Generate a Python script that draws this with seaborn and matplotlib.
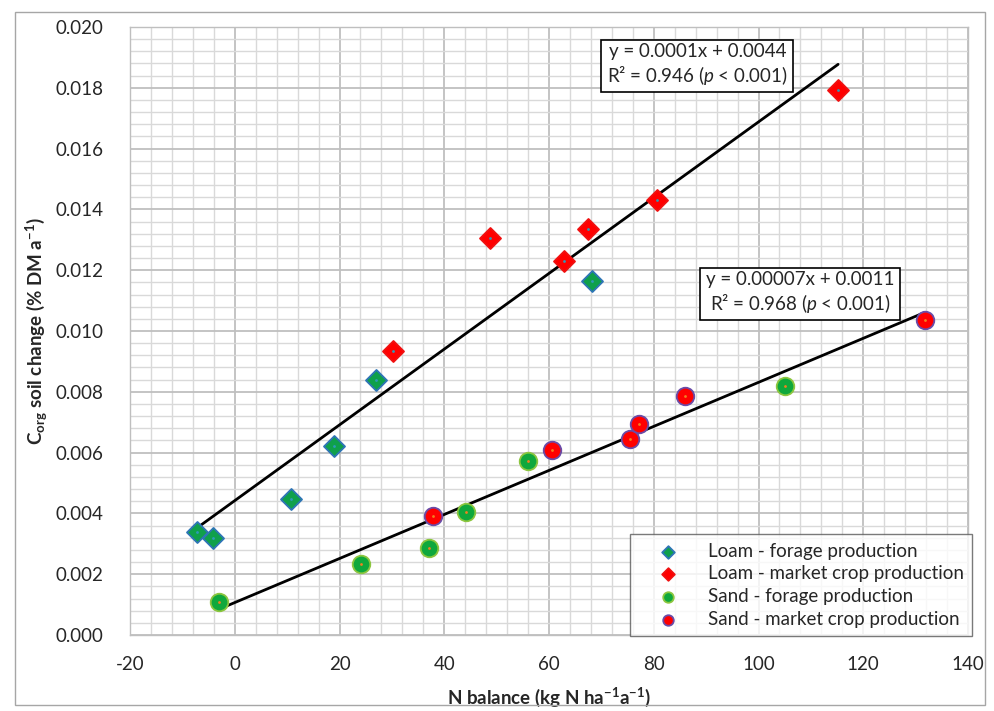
import numpy as np
import pandas as pd
import matplotlib
matplotlib.use("Agg")
import matplotlib.pyplot as plt
from matplotlib.ticker import MultipleLocator, FormatStrFormatter
from matplotlib.patches import Rectangle
import seaborn as sns

# N balance (kg N ha-1 a-1) and Corg soil change (% DM a-1) per farm group
loam_forage_x = [-7.2, -4.2, 10.8, 18.9, 26.9, 68.2]
loam_forage_y = [0.00340, 0.00320, 0.00448, 0.00622, 0.00839, 0.01166]

loam_market_x = [30.3, 48.8, 62.9, 67.5, 80.6, 115.2]
loam_market_y = [0.00933, 0.01307, 0.01230, 0.01337, 0.01432, 0.01792]

sand_forage_x = [-3.1, 24.1, 37.0, 44.1, 56.0, 105.1]
sand_forage_y = [0.00108, 0.00233, 0.00285, 0.00404, 0.00573, 0.00819]

sand_market_x = [37.8, 60.6, 75.4, 77.2, 86.0, 131.8]
sand_market_y = [0.00392, 0.00607, 0.00645, 0.00694, 0.00787, 0.01036]

series_labels = ["Loam - forage production", "Loam - market crop production",
                 "Sand - forage production", "Sand - market crop production"]

eq_loam = "y = 0.0001x + 0.0044\nR² = 0.946 ($\\mathit{p}$ < 0.001)"
eq_sand = "y = 0.00007x + 0.0011\nR² = 0.968 ($\\mathit{p}$ < 0.001)"

sns.set_style("white")
plt.rcParams["font.family"] = ["Lato", "DejaVu Sans"]
plt.rcParams["axes.unicode_minus"] = False
plt.rcParams["mathtext.fontset"] = "custom"
plt.rcParams["mathtext.rm"] = "Lato"
plt.rcParams["mathtext.it"] = "Lato:italic"
plt.rcParams["mathtext.bf"] = "Lato:bold"

FS = 13.5

fig = plt.figure(figsize=(9.95, 7.11), dpi=100)
ax = fig.add_axes([130 / 995, 76 / 711, 838 / 995, 608 / 711])

# outer chart frame
fig.patches.append(Rectangle((15 / 995, 6 / 711), 970 / 995, 693 / 711,
                             transform=fig.transFigure, fill=False,
                             edgecolor="#A6A6A6", linewidth=1.0, zorder=0))

ax.set_xlim(-20, 140)
ax.set_ylim(0, 0.020)
ax.xaxis.set_major_locator(MultipleLocator(20))
ax.xaxis.set_minor_locator(MultipleLocator(4))
ax.yaxis.set_major_locator(MultipleLocator(0.002))
ax.yaxis.set_minor_locator(MultipleLocator(0.0004))
ax.yaxis.set_major_formatter(FormatStrFormatter("%.3f"))
ax.grid(which="major", color="#BFBFBF", linewidth=1.3, zorder=0)
ax.grid(which="minor", color="#D9D9D9", linewidth=1.0, zorder=0)
ax.set_axisbelow(True)
for s in ax.spines.values():
    s.set_color("#BFBFBF")
    s.set_linewidth(1.0)
ax.tick_params(which="major", direction="out", length=4, color="#BFBFBF",
               labelsize=FS, pad=11)
ax.tick_params(axis="y", pad=15)
ax.tick_params(which="minor", length=0)

frames = {
    "lf": pd.DataFrame({"x": loam_forage_x, "y": loam_forage_y}),
    "lm": pd.DataFrame({"x": loam_market_x, "y": loam_market_y}),
    "sf": pd.DataFrame({"x": sand_forage_x, "y": sand_forage_y}),
    "sm": pd.DataFrame({"x": sand_market_x, "y": sand_market_y}),
}
loam = pd.concat([frames["lf"], frames["lm"]])
sand = pd.concat([frames["sf"], frames["sm"]])

# linear trend lines over each soil's data range
for d in (loam, sand):
    sns.regplot(data=d, x="x", y="y", ax=ax, scatter=False, ci=None,
                truncate=True, color="black", line_kws={"linewidth": 2.0, "zorder": 3})

styles = [
    ("lf", "D", "#0FA04B", "#2E75B6", "#2E9AB8"),
    ("lm", "D", "#FF0000", "#F01010", "#2E9AB8"),
    ("sf", "o", "#0FA83C", "#8CC63F", "#F08020"),
    ("sm", "o", "#FF0000", "#6A4CA8", "#F08020"),
]
for (key, mk, fc, ec, dot), lab in zip(styles, series_labels):
    size = 115 if mk == "D" else 160
    sns.scatterplot(data=frames[key], x="x", y="y", ax=ax, marker=mk, s=size,
                    color=fc, edgecolor=ec, linewidth=1.3, label=lab, zorder=4)
    sns.scatterplot(data=frames[key], x="x", y="y", ax=ax, marker="o", s=4,
                    color=dot, linewidth=0, zorder=5, legend=False)

ax.set_xlabel("N balance (kg N ha$^{\\mathbf{-1}}$a$^{\\mathbf{-1}}$)",
              fontsize=13.5, fontweight="bold", labelpad=9)
ax.set_ylabel("C$_{\\mathbf{org}}$ soil change (% DM a$^{\\mathbf{-1}}$)",
              fontsize=13.5, fontweight="bold", labelpad=4)

box = dict(boxstyle="square,pad=0.3", facecolor="white", edgecolor="black", linewidth=1.2)
ax.text(0.677, 0.9375, eq_loam, transform=ax.transAxes, ha="center", va="center",
        fontsize=FS, linespacing=1.2, bbox=box, zorder=6)
ax.text(0.7995, 0.5625, eq_sand, transform=ax.transAxes, ha="center", va="center",
        fontsize=FS, linespacing=1.2, bbox=box, zorder=6)

leg = ax.legend(loc="lower right", bbox_to_anchor=(972 / 995, 75 / 711),
                bbox_transform=fig.transFigure, fontsize=FS, markerscale=0.6,
                frameon=True, fancybox=False, edgecolor="#595959",
                borderpad=0.45, labelspacing=0.3, handletextpad=0.5,
                handlelength=3.2, borderaxespad=0)
leg.get_frame().set_linewidth(1.0)
leg.set_zorder(7)

fig.savefig("out.png", dpi=100)
